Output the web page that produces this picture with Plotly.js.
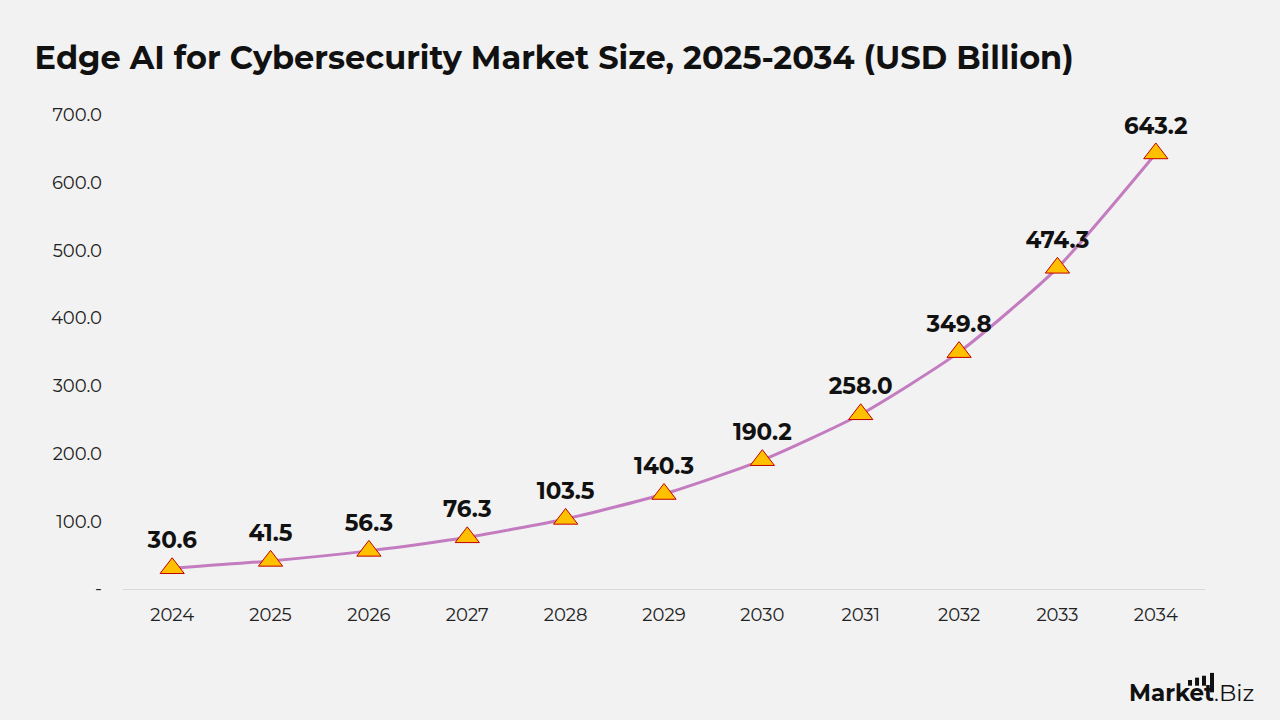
<!DOCTYPE html>
<html>
<head>
<meta charset="utf-8">
<script src="https://cdn.plot.ly/plotly-3.0.1.min.js"></script>
<style>
  html, body { margin: 0; padding: 0; background: #f2f2f2; }
  #chart { width: 1280px; height: 720px; }
</style>
</head>
<body>
<div id="chart"></div>
<script>
// Market size by year (USD billion)
const years = ['2024', '2025', '2026', '2027', '2028', '2029', '2030', '2031', '2032', '2033', '2034'];
const marketSize = [30.6, 41.5, 56.3, 76.3, 103.5, 140.3, 190.2, 258.0, 349.8, 474.3, 643.2];

// Y axis ticks
const yTickVals = [0, 100, 200, 300, 400, 500, 600, 700];
const yTickText = ['-', '100.0', '200.0', '300.0', '400.0', '500.0', '600.0', '700.0'];

const labelFont = "Montserrat, 'Open Sans', 'DejaVu Sans', sans-serif";

const trace = {
  x: years,
  y: marketSize,
  type: 'scatter',
  mode: 'lines+markers+text',
  line: { color: '#c47cc0', width: 3, shape: 'spline', smoothing: 0.6 },
  marker: {
    symbol: 'triangle-up',
    size: 21,
    color: '#ffc000',
    line: { color: '#c00000', width: 1 }
  },
  text: marketSize.map(v => v.toFixed(1)),
  textposition: 'top center',
  textfont: { family: labelFont, size: 23, color: '#111111', weight: 700 },
  cliponaxis: false,
  hoverinfo: 'x+y'
};

const layout = {
  width: 1280,
  height: 720,
  paper_bgcolor: '#f2f2f2',
  plot_bgcolor: '#f2f2f2',
  margin: { l: 123, r: 75, t: 115, b: 131 },
  showlegend: false,
  title: {
    text: '<b>Edge AI for Cybersecurity Market Size, 2025-2034 (USD Billion)</b>',
    font: { family: labelFont, size: 32, color: '#111111' },
    x: 0.027, xanchor: 'left',
    y: 0.92, yanchor: 'middle'
  },
  xaxis: {
    type: 'category',
    range: [-0.5, 10.5],
    showgrid: false,
    zeroline: false,
    showline: true,
    linecolor: '#d9d9d9',
    linewidth: 1,
    ticks: '',
    tickfont: { family: labelFont, size: 18, color: '#222222' },
    ticklabelstandoff: 9
  },
  yaxis: {
    range: [0, 700],
    showgrid: false,
    zeroline: false,
    showline: false,
    tickvals: yTickVals,
    ticktext: yTickText,
    ticks: '',
    tickfont: { family: labelFont, size: 18, color: '#222222' },
    ticklabelstandoff: 20
  },
  annotations: [
    {
      xref: 'paper', yref: 'paper',
      x: 1.047, y: -0.219, xanchor: 'right', yanchor: 'middle',
      text: '<b>Market</b>.Biz',
      showarrow: false,
      font: { family: labelFont, size: 23, color: '#111111' }
    }
  ],
  shapes: [
    // small bar icon above the logo word
    { type: 'rect', xref: 'paper', yref: 'paper', x0: 0.9843, x1: 0.9880, y0: -0.204, y1: -0.192, fillcolor: '#111', line: { width: 0 } },
    { type: 'rect', xref: 'paper', yref: 'paper', x0: 0.9908, x1: 0.9945, y0: -0.204, y1: -0.187, fillcolor: '#111', line: { width: 0 } },
    { type: 'rect', xref: 'paper', yref: 'paper', x0: 0.9972, x1: 1.0009, y0: -0.204, y1: -0.183, fillcolor: '#111', line: { width: 0 } },
    { type: 'rect', xref: 'paper', yref: 'paper', x0: 1.0046, x1: 1.0083, y0: -0.218, y1: -0.177, fillcolor: '#111', line: { width: 0 } }
  ]
};

Plotly.newPlot('chart', [trace], layout, { displayModeBar: false, staticPlot: true });
</script>
</body>
</html>
